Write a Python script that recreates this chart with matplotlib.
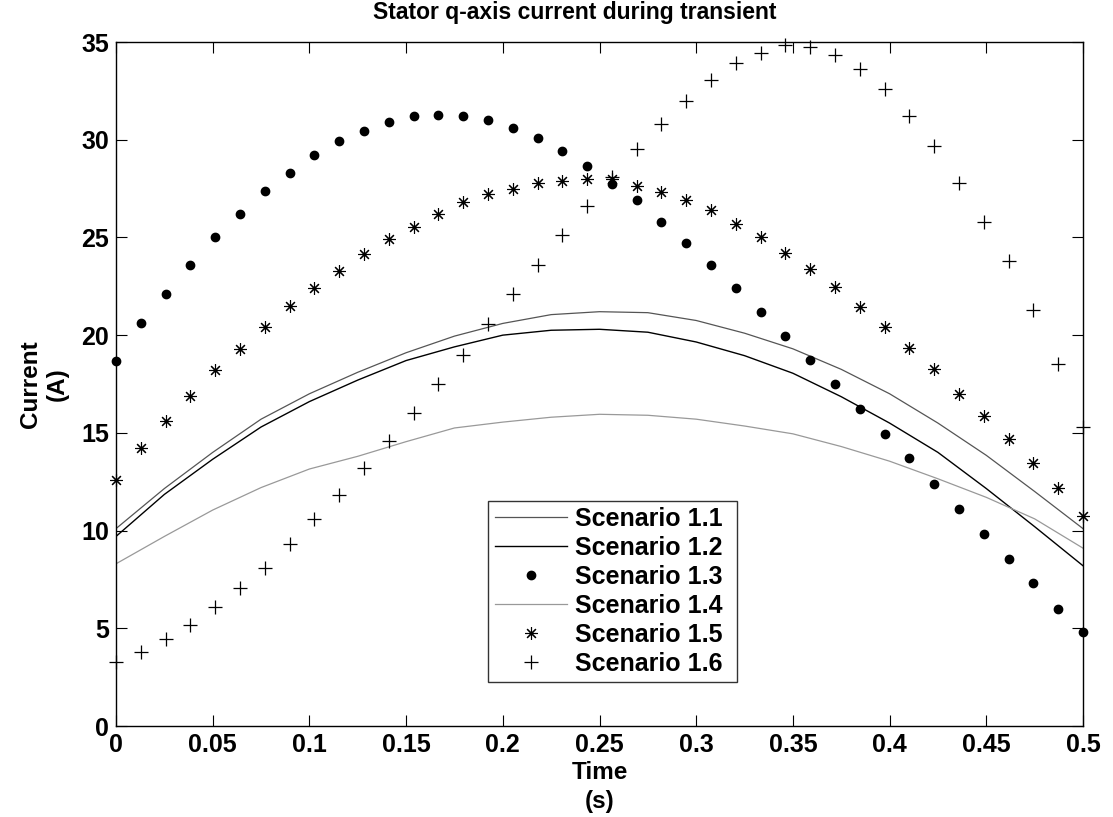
import numpy as np
import matplotlib
matplotlib.use("Agg")
import matplotlib.pyplot as plt
from matplotlib.ticker import FixedLocator, FixedFormatter

plt.rcParams['font.family'] = ['Liberation Sans', 'DejaVu Sans']
plt.rcParams['font.weight'] = 'bold'

# ---- data ----
t_marker = np.linspace(0, 0.5, 40)
t_line = np.linspace(0, 0.5, 21)

scenario_1_1 = [10.1, 12.15, 14.0, 15.7, 17.0, 18.1, 19.1, 19.95, 20.6, 21.05, 21.2,
                21.15, 20.75, 20.1, 19.3, 18.25, 17.0, 15.5, 13.85, 12.0, 10.1]
scenario_1_2 = [9.7, 11.85, 13.65, 15.3, 16.6, 17.7, 18.7, 19.4, 20.0, 20.25, 20.3,
                20.15, 19.65, 18.95, 18.05, 16.85, 15.5, 14.0, 12.15, 10.2, 8.2]
scenario_1_4 = [8.3, 9.7, 11.05, 12.2, 13.15, 13.8, 14.55, 15.25, 15.55, 15.8, 15.95,
                15.9, 15.7, 15.35, 14.95, 14.3, 13.55, 12.65, 11.7, 10.6, 9.1]

scenario_1_3 = [18.7, 20.6, 22.1, 23.6, 25.0, 26.2, 27.4, 28.3, 29.2, 29.95,
                30.45, 30.9, 31.2, 31.25, 31.2, 31.0, 30.6, 30.1, 29.4, 28.65,
                27.75, 26.9, 25.8, 24.7, 23.6, 22.4, 21.2, 19.95, 18.75, 17.5,
                16.2, 14.95, 13.7, 12.4, 11.1, 9.8, 8.55, 7.3, 6.0, 4.8]
scenario_1_5 = [12.6, 14.2, 15.6, 16.9, 18.2, 19.3, 20.4, 21.5, 22.4, 23.3,
                24.15, 24.9, 25.55, 26.2, 26.8, 27.2, 27.5, 27.8, 27.9, 27.97,
                27.97, 27.65, 27.3, 26.9, 26.4, 25.7, 25.0, 24.2, 23.4, 22.45,
                21.46, 20.4, 19.33, 18.25, 17.0, 15.87, 14.67, 13.44, 12.16, 10.76]
scenario_1_6 = [3.3, 3.8, 4.45, 5.17, 6.1, 7.04, 8.1, 9.3, 10.58, 11.8,
                13.2, 14.6, 16.0, 17.5, 19.0, 20.55, 22.1, 23.6, 25.1, 26.6,
                28.1, 29.5, 30.8, 32.0, 33.06, 33.9, 34.46, 34.85, 34.73, 34.34,
                33.6, 32.6, 31.2, 29.7, 27.8, 25.8, 23.8, 21.3, 18.5, 15.3]

x_ticks = [0, 0.05, 0.1, 0.15, 0.2, 0.25, 0.3, 0.35, 0.4, 0.45, 0.5]
x_tick_labels = ["0", "0.05", "0.1", "0.15", "0.2", "0.25", "0.3", "0.35", "0.4", "0.45", "0.5"]
y_ticks = [0, 5, 10, 15, 20, 25, 30, 35]
y_tick_labels = ["0", "5", "10", "15", "20", "25", "30", "35"]

# ---- figure ----
fig = plt.figure(figsize=(11.13, 8.17), dpi=100)
ax = fig.add_axes([116/1113, 1-726/817, (1083-116)/1113, (726-42)/817])

ax.plot(t_line, scenario_1_1, color='#555555', lw=0.9, label='Scenario 1.1')
ax.plot(t_line, scenario_1_2, color='black', lw=1.0, label='Scenario 1.2')
ax.plot(t_marker, scenario_1_3, ls='none', marker='o', ms=6, color='black',
        label='Scenario 1.3', clip_on=False)
ax.plot(t_line, scenario_1_4, color='#999999', lw=0.9, label='Scenario 1.4')
ax.plot(t_marker, scenario_1_5, ls='none', marker=(8, 2, 0), ms=9, mew=0.8,
        color='black', label='Scenario 1.5', clip_on=False)
ax.plot(t_marker, scenario_1_6, ls='none', marker='+', ms=10, mew=0.9,
        color='black', label='Scenario 1.6', clip_on=False)

ax.set_xlim(0, 0.5)
ax.set_ylim(0, 35)
ax.xaxis.set_major_locator(FixedLocator(x_ticks))
ax.xaxis.set_major_formatter(FixedFormatter(x_tick_labels))
ax.yaxis.set_major_locator(FixedLocator(y_ticks))
ax.yaxis.set_major_formatter(FixedFormatter(y_tick_labels))
ax.tick_params(direction='in', length=8, width=0.8, top=True, right=True,
               labelsize=18, pad=5)
for lab in ax.get_xticklabels() + ax.get_yticklabels():
    lab.set_fontweight('bold')
for s in ax.spines.values():
    s.set_linewidth(1.0)
    s.set_color('black')

ax.set_xlabel("Time\n(s)", fontsize=17.5, fontweight='bold', labelpad=3, linespacing=1.3)
ax.set_ylabel("Current\n(A)", fontsize=17.5, fontweight='bold', labelpad=9, linespacing=1.2)
fig.text(575/1113, 1-13/817, "Stator q-axis current during transient",
         ha='center', va='center', fontsize=16.5, fontweight='bold')

leg = ax.legend(loc='lower left', bbox_to_anchor=(0.385, 0.064, 0.2575, 0.2865),
                mode='expand', prop={'weight': 'bold', 'size': 18},
                frameon=True, fancybox=False, edgecolor='black', handlelength=2.9,
                handletextpad=0.3, labelspacing=0.2, borderpad=0.25, borderaxespad=0)
leg.get_frame().set_linewidth(1.0)

fig.savefig("out.png", dpi=100)
